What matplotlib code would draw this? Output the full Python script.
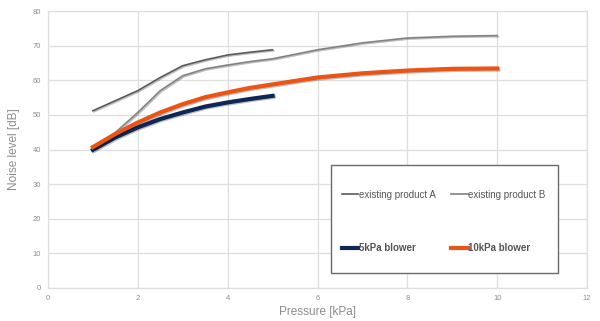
import matplotlib
matplotlib.use("Agg")
import matplotlib.pyplot as plt
import matplotlib.patheffects as pe
from matplotlib.patches import Rectangle

plt.rcParams["font.family"] = ["Liberation Sans", "DejaVu Sans"]

# Data
x_a = [1, 1.5, 2, 2.5, 3, 3.5, 4, 4.5, 5]
y_a = [51.2, 54.1, 57.0, 60.8, 64.2, 65.9, 67.3, 68.1, 68.8]

x_b = [1, 1.5, 2, 2.5, 3, 3.5, 4, 4.5, 5, 6, 7, 8, 9, 10]
y_b = [40.4, 44.9, 50.7, 57.0, 61.3, 63.3, 64.4, 65.4, 66.2, 68.8, 70.8, 72.2, 72.7, 72.9]

x_5k = [1, 1.5, 2, 2.5, 3, 3.5, 4, 4.5, 5]
y_5k = [39.9, 43.5, 46.4, 48.8, 50.7, 52.4, 53.6, 54.6, 55.5]

x_10k = [1, 1.5, 2, 2.5, 3, 3.5, 4, 4.5, 5, 6, 7, 8, 9, 10]
y_10k = [40.7, 44.5, 47.8, 50.7, 53.1, 55.1, 56.5, 57.8, 58.8, 60.8, 62.0, 62.8, 63.3, 63.4]

labels = ["existing product A", "existing product B", "5kPa blower", "10kPa blower"]
x_ticks = [0, 2, 4, 6, 8, 10, 12]
y_ticks = [0, 10, 20, 30, 40, 50, 60, 70, 80]

fig = plt.figure(figsize=(6, 3.21), dpi=100)
ax = fig.add_axes([48/600, 1-288/321, (587-48)/600, (288-11)/321])

shadow = [pe.SimpleLineShadow(offset=(0.8, -0.8), shadow_color="black", alpha=0.25), pe.Normal()]

la, = ax.plot(x_a, y_a, color="#5a5a5a", lw=1.2, path_effects=shadow, solid_joinstyle="round")
lb, = ax.plot(x_b, y_b, color="#828282", lw=1.2, path_effects=shadow, solid_joinstyle="round")
l5, = ax.plot(x_5k, y_5k, color="#0e2756", lw=3.0, path_effects=shadow, solid_joinstyle="round")
l10, = ax.plot(x_10k, y_10k, color="#ea5414", lw=3.0, path_effects=shadow, solid_joinstyle="round")

ax.set_xlim(0, 12)
ax.set_ylim(0, 80)
ax.set_xticks(x_ticks)
ax.set_yticks(y_ticks)
ax.grid(True, color="#dedede", lw=0.9)
ax.set_axisbelow(True)
for s in ax.spines.values():
    s.set_color("#dedede")
    s.set_linewidth(0.9)
ax.tick_params(length=0, labelsize=5.5, colors="#8c8c8c")
ax.tick_params(axis="x", pad=5)
ax.tick_params(axis="y", pad=5)
ax.set_xlabel("Pressure [kPa]", fontsize=8.5, color="#8c8c8c", labelpad=3)
ax.set_ylabel("Noise level [dB]", fontsize=8.5, color="#8c8c8c", labelpad=9)

# legend box
fig.patches.append(Rectangle((331/600, 1-273/321), (558-331)/600, (273-165)/321,
                             transform=fig.transFigure, fill=True, facecolor="white",
                             edgecolor="#6a6a6a", lw=1.0, zorder=5))

handles = [la, l5, lb, l10]
order_labels = [labels[0], labels[2], labels[1], labels[3]]
leg = fig.legend(handles, order_labels, ncol=2, frameon=False,
                 loc="upper left", bbox_to_anchor=(337/600, 1-185/321),
                 fontsize=7, handlelength=1.7, handletextpad=0.05,
                 columnspacing=1.6, labelspacing=4.45, borderpad=0,
                 labelcolor="#555555")
leg.set_zorder(6)
for t in leg.get_texts():
    if "blower" in t.get_text():
        t.set_fontweight("bold")
for h in leg.legend_handles:
    h.set_path_effects([])

fig.savefig("out.png", dpi=100)
